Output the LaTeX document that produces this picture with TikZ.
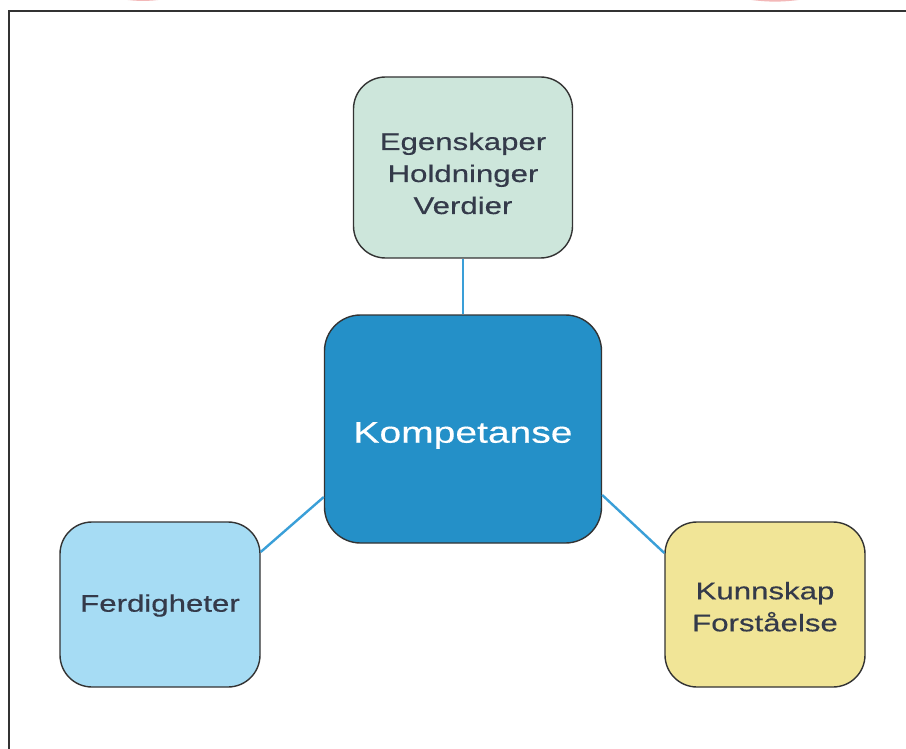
\documentclass[tikz,border=0pt]{standalone}
\usepackage{fontspec}
\setmainfont{Liberation Sans}
\newfontfamily\widefont[FakeStretch=1.3,FakeBold=0.4]{Liberation Sans}
\definecolor{topfill}{HTML}{CDE6DB}
\definecolor{leftfill}{HTML}{A6DCF4}
\definecolor{rightfill}{HTML}{F1E597}
\definecolor{midfill}{HTML}{2490C8}
\definecolor{linkcol}{HTML}{3A9FD8}
\definecolor{textcol}{HTML}{343A4A}
\definecolor{framecol}{HTML}{333333}
\definecolor{arccol}{HTML}{F3B8B8}
\newcommand{\boxtext}[2]{\raisebox{#1}[0pt][0pt]{\begin{tabular}[t]{@{}c@{}}#2\end{tabular}}}
\tikzset{
  box/.style={rectangle, rounded corners=32pt, draw=framecol, line width=1.4pt,
    inner sep=0pt, align=center, text=textcol,
    font=\widefont\fontsize{24}{32}\selectfont},
  link/.style={draw=linkcol, line width=2.4pt},
  pinkarc/.style={draw=arccol, line width=2.5pt}
}
\begin{document}
\begin{tikzpicture}[x=1pt,y=1pt]
\useasboundingbox (0,0) rectangle (906,-749);
\fill[white] (0,0) rectangle (906,-749);
% frame
\coordinate (fbl) at (9,-760);
\coordinate (ftl) at (9,-11);
\coordinate (ftr) at (920,-11);
\draw[framecol, line width=2pt] (fbl) -- (ftl) -- (ftr);
% red marks at top
\coordinate (a1) at (122,2);
\coordinate (a2) at (164,2);
\coordinate (b1) at (746,2);
\coordinate (b2) at (804,2);
\draw[pinkarc] (a1) to[bend right=8] (a2);
\draw[pinkarc] (b1) to[bend right=8] (b2);
% boxes
\node[box, fill=topfill, minimum width=219pt, minimum height=181pt] (top) at (463,-167.5)
  {\boxtext{17.5pt}{Egenskaper\\Holdninger\\Verdier}};
\node[box, fill=midfill, minimum width=277pt, minimum height=228pt, rounded corners=36pt,
  text=white, font=\widefont\fontsize{30}{36}\selectfont] (mid) at (463,-429)
  {\boxtext{-13.7pt}{Kompetanse}};
\node[box, fill=leftfill, minimum width=200pt, minimum height=165pt] (left) at (160,-604.5)
  {\boxtext{-7.2pt}{Ferdigheter}};
\node[box, fill=rightfill, minimum width=200pt, minimum height=165pt] (right) at (765,-604.5)
  {\boxtext{5.2pt}{Kunnskap\\Forståelse}};
% connectors
\draw[link] (top.south) -- (mid.north);
\draw[link] ([yshift=52.5pt]left.east) -- ([yshift=-68pt]mid.west);
\draw[link] ([yshift=-66pt]mid.east) -- ([yshift=51.5pt]right.west);
\end{tikzpicture}
\end{document}
